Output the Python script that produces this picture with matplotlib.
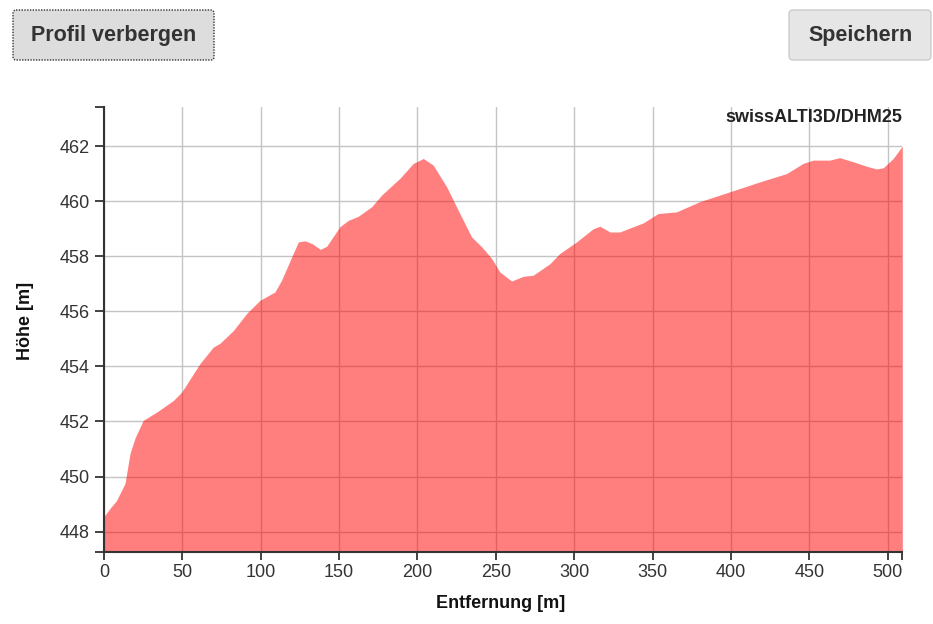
import matplotlib
matplotlib.use("Agg")
import matplotlib.pyplot as plt
from matplotlib.patches import FancyBboxPatch

plt.rcParams['font.family'] = ['Liberation Sans', 'DejaVu Sans']

# profile
dist = [0, 3.8, 8, 13.4, 16.6, 19.8, 25, 33.6, 44.2, 49.6, 61.2, 69.7, 74,
        82.5, 91, 99.5, 109, 113.3, 119.7, 124, 128.2, 133, 138, 142, 150.5,
        155.8, 162.2, 170.8, 177.1, 188.8, 197.3, 203.7, 210, 218.6, 227,
        234.5, 241, 247.3, 252.5, 260, 267.5, 273.8, 284.5, 290.8, 301.5,
        312.1, 316.4, 322.8, 329, 337.6, 344, 353.5, 365.2, 380, 399.3,
        418.4, 435.4, 446, 452.4, 463, 469.4, 478, 486.4, 492.8, 497.1,
        503.5, 509.3]
hoehe = [448.55, 448.84, 449.13, 449.75, 450.84, 451.4, 452.04, 452.34,
         452.76, 453.07, 454.1, 454.7, 454.84, 455.3, 455.92, 456.4, 456.7,
         457.13, 457.97, 458.52, 458.56, 458.45, 458.25, 458.36, 459.07,
         459.3, 459.45, 459.8, 460.22, 460.83, 461.37, 461.55, 461.31,
         460.52, 459.55, 458.7, 458.34, 457.92, 457.43, 457.1, 457.27,
         457.31, 457.73, 458.1, 458.52, 459.0, 459.09, 458.88, 458.88,
         459.07, 459.21, 459.55, 459.61, 459.98, 460.34, 460.70, 461.0,
         461.37, 461.49, 461.49, 461.58, 461.43, 461.27, 461.17, 461.21,
         461.55, 462.0]

xticks = [0, 50, 100, 150, 200, 250, 300, 350, 400, 450, 500]
yticks = [448, 450, 452, 454, 456, 458, 460, 462]
xmax = 509.3
ymin, ymax = 447.27, 463.43

fig = plt.figure(figsize=(9.33, 6.24), dpi=100)

# page layer in pixel coordinates (buttons)
bg = fig.add_axes([0, 0, 1, 1], zorder=0)
bg.set_xlim(0, 933)
bg.set_ylim(624, 0)
bg.axis("off")
b1 = FancyBboxPatch((13, 10), 201, 50, boxstyle="round,pad=0,rounding_size=3",
                    facecolor="#dddddd", edgecolor="#333333",
                    linestyle=(0, (1, 1)), linewidth=1)
bg.add_patch(b1)
bg.text(113.5, 35, "Profil verbergen", ha="center", va="center",
        fontsize=15.5, fontweight="bold", color="#333333")
b2 = FancyBboxPatch((789, 10), 142, 50, boxstyle="round,pad=0,rounding_size=4",
                    facecolor="#e6e6e6", edgecolor="#cccccc", linewidth=1)
bg.add_patch(b2)
bg.text(861, 35, "Speichern", ha="center", va="center",
        fontsize=15.5, fontweight="bold", color="#333333")

ax = fig.add_axes([104 / 933, 1 - 551.7 / 624, (902.3 - 104) / 933,
                   (551.7 - 106.7) / 624], zorder=1)
ax.patch.set_alpha(0)
ax.fill_between(dist, hoehe, ymin, color="red", alpha=0.5, linewidth=0,
                zorder=2)
ax.set_xlim(0, xmax)
ax.set_ylim(ymin, ymax)
ax.set_xticks(xticks)
ax.set_yticks(yticks)
ax.set_xticks([xmax], minor=True)
ax.set_yticks([ymin, ymax], minor=True)
ax.grid(True, color="#c4c4c4", linewidth=1, zorder=1)
ax.set_axisbelow(True)
for s in ["top", "right"]:
    ax.spines[s].set_visible(False)
for s in ["left", "bottom"]:
    ax.spines[s].set_color("#333333")
    ax.spines[s].set_linewidth(1.5)
ax.tick_params(which="both", direction="out", color="#333333", width=1.3,
               labelsize=13, labelcolor="#333333")
ax.tick_params(axis="y", which="both", length=6.5, pad=4)
ax.tick_params(axis="x", which="both", length=5.5, pad=3)

ax.text(1.0, 0.975, "swissALTI3D/DHM25", transform=ax.transAxes,
        ha="right", va="center", fontsize=13, fontweight="bold",
        color="#222222")
fig.text(25 / 933, 1 - 321 / 624, "Höhe [m]", rotation=90, ha="center",
         va="center", fontsize=13, fontweight="bold", color="#111111")
fig.text(501 / 933, 1 - 604 / 624, "Entfernung [m]", ha="center",
         va="center", fontsize=13, fontweight="bold", color="#111111")

fig.savefig("out.png", dpi=100)
